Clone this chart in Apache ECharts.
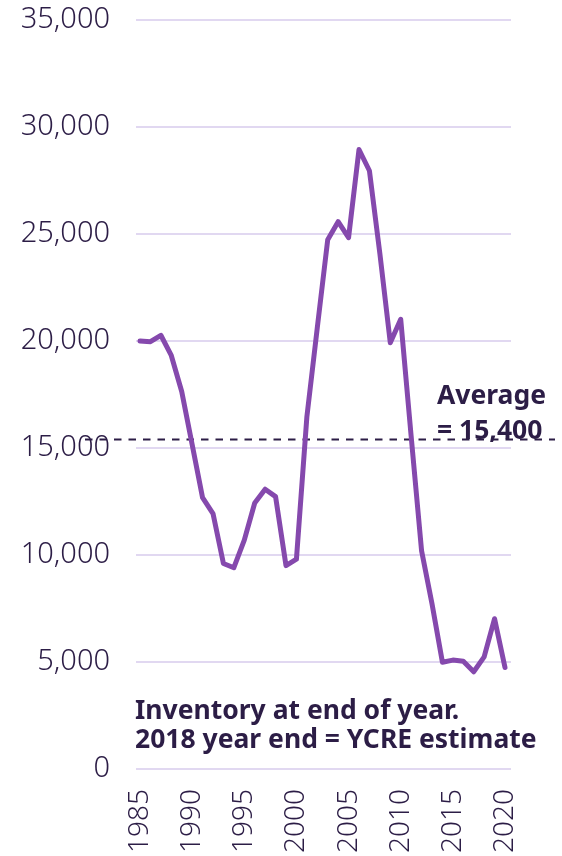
<!DOCTYPE html>
<html>
<head>
<meta charset="utf-8">
<script src="https://cdn.jsdelivr.net/npm/echarts@6/dist/echarts.min.js"></script>
<style>
  html, body { margin: 0; padding: 0; background: #fff; }
  #chart { width: 562px; height: 856px; }
</style>
</head>
<body>
<div id="chart"></div>
<script>
// Year-end housing inventory, 1985–2020
const years = [
  '1985','1986','1987','1988','1989','1990','1991','1992','1993','1994',
  '1995','1996','1997','1998','1999','2000','2001','2002','2003','2004',
  '2005','2006','2007','2008','2009','2010','2011','2012','2013','2014',
  '2015','2016','2017','2018','2019','2020'
];
const inventory = [
  19880, 19850, 20150, 19200, 17500, 15000, 12500, 11750, 9400, 9200,
  10500, 12250, 12900, 12550, 9300, 9600, 16300, 20500, 24650, 25500,
  24750, 28900, 27900, 24000, 19800, 20900, 15400, 10000, 7500, 4750,
  4850, 4800, 4300, 5000, 6800, 4500
];
const averageValue = 15400;
const yTicks = [0, 5000, 10000, 15000, 20000, 25000, 30000, 35000];

const ink = '#2c1d46';
const purple = '#8549ad';
const gridColor = '#e1d8f1';
const labelFont = 'Noto Sans';
const noteFont = 'Noto Sans';

const fmt = v => v.toLocaleString('en-US');

const chart = echarts.init(document.getElementById('chart'), null, { renderer: 'canvas' });

const yMin = yTicks[0];
const yMax = yTicks[yTicks.length - 1];
const yStep = yTicks[1] - yTicks[0];

const noteStyle = { color: ink, fontFamily: noteFont, fontWeight: 'bold', fontSize: 26.5 };

chart.setOption({
  animation: false,
  backgroundColor: '#fff',
  title: [
    {
      text: 'Average\n= ' + fmt(averageValue),
      left: 437, top: 379, padding: 0,
      textStyle: Object.assign({ lineHeight: 35 }, noteStyle)
    },
    {
      text: 'Inventory at end of year.\n2018 year end = YCRE estimate',
      left: 135, top: 697, padding: 0,
      textStyle: Object.assign({ lineHeight: 29 }, noteStyle)
    }
  ],
  grid: [
    // value axis with gridlines
    { left: 136, right: 51, top: 20, bottom: 87 },
    // year axis and the inventory line
    { left: 140, right: 57, top: 20, bottom: 87 },
    // wide band for the average reference line
    { left: 85, right: 7, top: 20, bottom: 87 }
  ],
  xAxis: [
    { gridIndex: 0, type: 'value', min: 0, max: 1, show: false },
    {
      gridIndex: 1, type: 'category', data: years, boundaryGap: false,
      axisLine: { show: false }, axisTick: { show: false },
      splitLine: { show: false },
      axisLabel: {
        interval: 4, rotate: 90, margin: 26,
        color: ink, fontFamily: labelFont, fontWeight: 300, fontSize: 28
      }
    },
    { gridIndex: 2, type: 'value', min: 0, max: 1, show: false }
  ],
  yAxis: [
    {
      gridIndex: 0, type: 'value', min: yMin, max: yMax, interval: yStep,
      axisLine: { show: false }, axisTick: { show: false },
      splitLine: { lineStyle: { color: gridColor, width: 2 } },
      axisLabel: {
        margin: 26, color: ink, fontFamily: labelFont, fontWeight: 300, fontSize: 29,
        formatter: v => fmt(v)
      }
    },
    { gridIndex: 1, type: 'value', min: yMin, max: yMax, show: false },
    { gridIndex: 2, type: 'value', min: yMin, max: yMax, show: false }
  ],
  series: [
    {
      type: 'line', xAxisIndex: 2, yAxisIndex: 2, z: 2,
      data: [[0, averageValue], [1, averageValue]],
      symbol: 'none', silent: true,
      lineStyle: { color: ink, width: 2, type: [7.5, 7] }
    },
    {
      type: 'line', xAxisIndex: 1, yAxisIndex: 1, z: 3,
      data: inventory,
      symbol: 'none',
      lineStyle: { color: purple, width: 5, cap: 'round', join: 'round' }
    }
  ]
});
</script>
</body>
</html>
